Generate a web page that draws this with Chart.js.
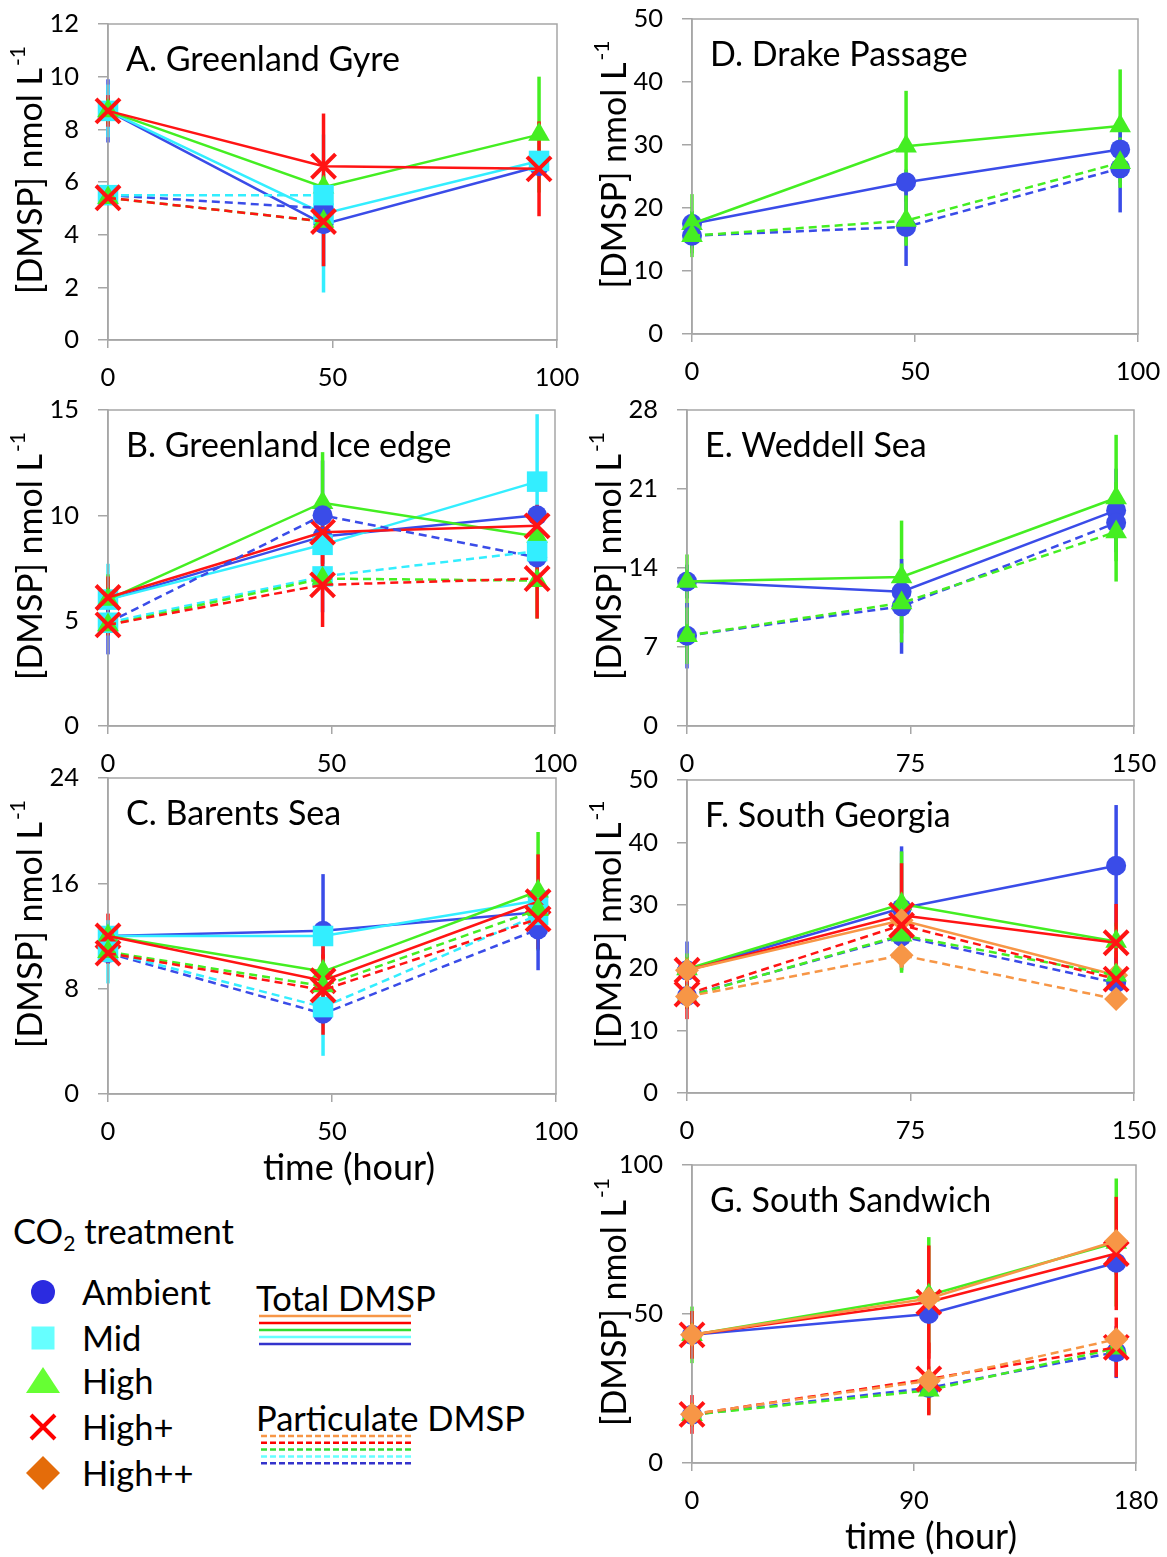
<!DOCTYPE html>
<html>
<head>
<meta charset="utf-8">
<script src="https://cdn.jsdelivr.net/npm/chart.js@4"></script>
<style>
  body { margin: 0; background: #fff; }
  #page { position: relative; width: 1167px; height: 1557px; overflow: hidden; font-family: Lato, sans-serif; }
  #page canvas { position: absolute; }
  .lg { position: absolute; font-size: 34.5px; color: #000; white-space: nowrap; line-height: 1; transform: translateY(-50%); }
  .lg sub { font-size: 21px; vertical-align: -7px; }
</style>
</head>
<body>
<div id="page"></div>
<script>
// treatments in legend order
const treatments = ['Ambient', 'Mid', 'High', 'High+', 'High++'];
const colors = ['#3a4ce8', '#33eeff', '#44ee22', '#ff1414', '#f79646'];

// sampling times (hour)
const hours96 = [0, 48, 96];
const hours144 = [0, 72, 144];
const hours172 = [0, 96, 172];

// which treatments are in each panel (index into treatments)
const setArctic = [0, 1, 2, 3];
const setDE = [0, 2];
const setFG = [0, 2, 3, 4];

// A. Greenland Gyre
const totalA = [[8.7, 4.4, 6.6], [8.7, 4.8, 6.8], [8.7, 5.8, 7.8], [8.7, 6.6, 6.5]];
const totalErrA = [[1.2, 1.6, 0.3], [1.0, 3.0, 0.3], [0.5, 0.5, 2.2], [0.6, 2.0, 1.8]];
const partA = [[5.5, 5.0], [5.5, 5.5], [5.4, 4.5], [5.4, 4.5]];
const partErrA = [[0.2, 0.3], [0.2, 0.3], [0.2, 0.3], [0.2, 1.7]];

// B. Greenland Ice edge
const totalB = [[6.0, 9.0, 10.0], [6.0, 8.6, 11.6], [6.0, 10.6, 9.0], [6.1, 9.2, 9.5]];
const totalErrB = [[1.0, 3.6, 0.5], [1.7, 1.0, 3.2], [1.2, 2.4, 1.0], [1.0, 1.5, 1.0]];
const partB = [[4.9, 10.0, 8.0], [4.9, 7.1, 8.3], [4.8, 7.0, 6.9], [4.8, 6.7, 7.0]];
const partErrB = [[1.5, 0.5, 0.5], [0.5, 0.5, 0.5], [0.4, 0.5, 1.8], [0.5, 2.0, 1.9]];

// C. Barents Sea
const totalC = [[12.0, 12.4, 13.8], [12.0, 12.0, 14.7], [12.0, 9.3, 15.4], [12.0, 8.6, 14.6]];
const totalErrC = [[1.0, 4.3, 1.0], [1.0, 1.0, 1.5], [1.0, 1.0, 4.5], [1.7, 2.0, 3.6]];
const partC = [[10.7, 6.1, 12.5], [10.8, 6.6, 13.6], [10.8, 8.2, 14.0], [10.7, 7.9, 13.3]];
const partErrC = [[0.8, 0.8, 3.1], [2.4, 3.7, 0.8], [0.8, 0.8, 0.8], [0.8, 3.4, 0.8]];

// D. Drake Passage
const totalD = [[17.5, 24.1, 29.3], [17.5, 29.8, 33.0]];
const totalErrD = [[2.0, 2.0, 2.0], [4.7, 8.8, 9.0]];
const partD = [[15.6, 17.0, 26.3], [15.6, 18.0, 27.2]];
const partErrD = [[2.0, 6.2, 7.0], [3.4, 4.0, 4.0]];

// E. Weddell Sea
const totalE = [[12.8, 11.9, 19.1], [12.8, 13.2, 20.2]];
const totalErrE = [[1.5, 2.0, 3.7], [2.4, 5.0, 5.6]];
const partE = [[8.0, 10.6, 18.0], [8.0, 10.9, 17.2]];
const partErrE = [[2.9, 4.2, 1.5], [2.5, 3.5, 4.4]];

// F. South Georgia
const totalF = [[19.6, 29.5, 36.3], [19.8, 30.2, 24.2], [19.6, 28.4, 24.0], [19.6, 27.6, 18.8]];
const totalErrF = [[4.6, 9.9, 9.7], [2.5, 8.4, 3.0], [2.0, 8.3, 6.2], [2.0, 2.0, 2.0]];
const partF = [[15.5, 25.0, 17.6], [15.4, 25.2, 18.8], [15.8, 26.8, 18.2], [15.4, 22.0, 15.0]];
const partErrF = [[2.0, 2.0, 4.0], [2.0, 6.0, 2.0], [4.0, 2.0, 4.5], [1.5, 2.0, 1.5]];

// G. South Sandwich
const totalG = [[43, 50.0, 67.2], [43, 56.3, 74.0], [43, 54.0, 70.3], [43, 55.2, 74.5]];
const totalErrG = [[3, 3, 4], [9.5, 19.5, 21.5], [8, 19, 19], [3, 3, 3]];
const partG = [[16.2, 25.2, 37.2], [16.2, 24.4, 38.5], [16.3, 28.2, 38.8], [16.4, 27.6, 41.5]];
const partErrG = [[3, 3, 8.7], [4, 8, 5], [6.5, 12.2, 10], [3, 3, 3]];

const markerStyles = ['circle', 'rect', 'triangle', 'crossRot', 'rectRot'];
const markerSizes = [10, 14.5, 12.5, 17, 12];
const axisGray = '#a6a6a6';
const fontFamily = 'Lato, sans-serif';

// box = plot area [left, top, right, bottom] on the page; cl = canvas left, bottomEdge = canvas bottom
const panels = [
  { title: 'A. Greenland Gyre', hours: hours96, set: setArctic, total: totalA, totalErr: totalErrA, part: partA, partErr: partErrA,
    xMax: 100, xStep: 50, yMax: 12, yStep: 2, box: [108, 24, 557, 340], cl: 0, bottomEdge: 400 },
  { title: 'B. Greenland Ice edge', hours: hours96, set: setArctic, total: totalB, totalErr: totalErrB, part: partB, partErr: partErrB,
    xMax: 100, xStep: 50, yMax: 15, yStep: 5, box: [108, 410, 555, 726], cl: 0, bottomEdge: 785 },
  { title: 'C. Barents Sea', hours: hours96, set: setArctic, total: totalC, totalErr: totalErrC, part: partC, partErr: partErrC,
    xMax: 100, xStep: 50, yMax: 24, yStep: 8, box: [108, 778, 556, 1094], cl: 0, bottomEdge: 1195, xTitle: true },
  { title: 'D. Drake Passage', hours: hours96, set: setDE, total: totalD, totalErr: totalErrD, part: partD, partErr: partErrD,
    xMax: 100, xStep: 50, yMax: 50, yStep: 10, box: [692, 19, 1138, 334], cl: 585, bottomEdge: 400 },
  { title: 'E. Weddell Sea', hours: hours144, set: setDE, total: totalE, totalErr: totalErrE, part: partE, partErr: partErrE,
    xMax: 150, xStep: 75, yMax: 28, yStep: 7, box: [687, 410, 1134, 726], cl: 585, bottomEdge: 785 },
  { title: 'F. South Georgia', hours: hours144, set: setFG, total: totalF, totalErr: totalErrF, part: partF, partErr: partErrF,
    xMax: 150, xStep: 75, yMax: 50, yStep: 10, box: [687, 780, 1134, 1093], cl: 585, bottomEdge: 1150 },
  { title: 'G. South Sandwich', hours: hours172, set: setFG, total: totalG, totalErr: totalErrG, part: partG, partErr: partErrG,
    xMax: 180, xStep: 90, yMax: 100, yStep: 50, box: [692, 1165, 1136, 1463], cl: 585, bottomEdge: 1557, xTitle: true },
];

// vertical error bars, drawn under the lines and markers
const errorBars = {
  id: 'errorBars',
  beforeDatasetsDraw(chart) {
    const { ctx, scales: { x, y } } = chart;
    ctx.save();
    ctx.lineWidth = 3.5;
    const list = chart.data.datasets.slice().reverse();
    list.forEach(ds => {
      ctx.strokeStyle = ds.borderColor;
      ds.data.forEach((pt, i) => {
        const e = ds.errors[i];
        const px = x.getPixelForValue(pt.x);
        ctx.beginPath();
        ctx.moveTo(px, y.getPixelForValue(pt.y - e));
        ctx.lineTo(px, y.getPixelForValue(pt.y + e));
        ctx.stroke();
      });
    });
    ctx.restore();
  }
};

// plot area border and the panel texts
const frameAndText = {
  id: 'frameAndText',
  beforeDatasetsDraw(chart) {
    const { ctx, chartArea: a } = chart;
    ctx.save();
    ctx.strokeStyle = axisGray;
    ctx.lineWidth = 1.5;
    ctx.strokeRect(a.left, a.top, a.right - a.left, a.bottom - a.top);
    ctx.restore();
  },
  afterDraw(chart, args, opts) {
    const { ctx, chartArea: a } = chart;
    ctx.save();
    ctx.fillStyle = '#000';
    ctx.textBaseline = 'middle';
    ctx.textAlign = 'left';
    ctx.font = '34px ' + fontFamily;
    ctx.fillText(opts.title, a.left + 18, a.top + 36);

    // y axis title with superscript
    const main = '[DMSP] nmol L';
    const sup = '-1';
    ctx.translate(a.left - 77, (a.top + a.bottom) / 2 - 12);
    ctx.rotate(-Math.PI / 2);
    ctx.font = '34px ' + fontFamily;
    const wm = ctx.measureText(main).width;
    ctx.font = '21px ' + fontFamily;
    const ws = ctx.measureText(sup).width;
    const start = -(wm + ws + 2) / 2;
    ctx.font = '34px ' + fontFamily;
    ctx.fillText(main, start, 0);
    ctx.font = '21px ' + fontFamily;
    ctx.fillText(sup, start + wm + 2, -13);
    ctx.restore();

    if (opts.xTitle) {
      ctx.save();
      ctx.fillStyle = '#000';
      ctx.textAlign = 'center';
      ctx.textBaseline = 'middle';
      ctx.font = '36px ' + fontFamily;
      ctx.fillText('time (hour)', (a.left + a.right) / 2 + 17, a.bottom + 74);
      ctx.restore();
    }
  }
};

function makeDataset(t, hours, vals, errs, dashed) {
  return {
    data: vals.map((v, i) => ({ x: hours[i], y: v })),
    errors: errs,
    borderColor: colors[t],
    backgroundColor: colors[t],
    borderWidth: 2.5,
    borderDash: dashed ? [8, 5] : [],
    pointStyle: markerStyles[t],
    pointRadius: markerSizes[t],
    pointBorderWidth: t === 3 ? 4 : 0,
    pointBackgroundColor: colors[t],
    pointBorderColor: colors[t],
    tension: 0,
    clip: false
  };
}

const page = document.getElementById('page');
const padTop = 42;
const padRight = 48;

panels.forEach(p => {
  const [x0, y0, x1, y1] = p.box;
  const cl = p.cl;
  const ct = y0 - padTop;
  const cw = x1 + padRight - cl;
  const chh = p.bottomEdge - ct;
  const c = document.createElement('canvas');
  c.width = cw; c.height = chh;
  c.style.left = cl + 'px'; c.style.top = ct + 'px';
  c.style.width = cw + 'px'; c.style.height = chh + 'px';
  page.appendChild(c);

  const datasets = [];
  p.set.forEach((t, i) => datasets.push(makeDataset(t, p.hours, p.total[i], p.totalErr[i], false)));
  p.set.forEach((t, i) => datasets.push(makeDataset(t, p.hours, p.part[i], p.partErr[i], true)));
  // Chart.js paints the first dataset last, so reverse to keep High+/High++ on top
  datasets.reverse();

  const tickFont = { family: fontFamily, size: 25.5 };
  new Chart(c, {
    type: 'line',
    data: { datasets },
    options: {
      responsive: false,
      animation: false,
      devicePixelRatio: 1,
      layout: { padding: { left: 0, top: padTop, right: padRight, bottom: 0 } },
      plugins: {
        legend: { display: false },
        tooltip: { enabled: false },
        frameAndText: { title: p.title, xTitle: !!p.xTitle }
      },
      scales: {
        x: {
          type: 'linear', min: 0, max: p.xMax,
          afterFit: s => { s.height = p.bottomEdge - y1; },
          ticks: { stepSize: p.xStep, font: tickFont, color: '#000', padding: 14, maxRotation: 0 },
          grid: { drawOnChartArea: false, tickLength: 8, color: axisGray, lineWidth: 1.5 },
          border: { color: axisGray, width: 1.5 }
        },
        y: {
          type: 'linear', min: 0, max: p.yMax,
          afterFit: s => { s.width = x0 - cl; },
          ticks: { stepSize: p.yStep, font: tickFont, color: '#000', padding: 19 },
          grid: { drawOnChartArea: false, tickLength: 10, color: axisGray, lineWidth: 1.5 },
          border: { color: axisGray, width: 1.5 }
        }
      }
    },
    plugins: [errorBars, frameAndText]
  });
});

// legend
function addText(html, left, top) {
  const d = document.createElement('div');
  d.className = 'lg';
  d.style.left = left + 'px';
  d.style.top = top + 'px';
  d.innerHTML = html;
  page.appendChild(d);
}
addText('CO<sub>2</sub> treatment', 13, 1233);
const legendY = [1292, 1338, 1381, 1427, 1473];
treatments.forEach((name, i) => addText(name, 82, legendY[i]));
addText('Total DMSP', 256, 1298);
addText('Particulate DMSP', 256, 1418);

const legendMarkColors = ['#2b2be0', '#66ffff', '#66ff33', '#ff0000', '#e46c0a'];
const legendLineColors = ['#f79646', '#ff0000', '#33dd33', '#66ffff', '#3333cc'];
const svgNS = 'http://www.w3.org/2000/svg';
const svg = document.createElementNS(svgNS, 'svg');
svg.setAttribute('width', '1167');
svg.setAttribute('height', '1557');
svg.style.position = 'absolute';
svg.style.left = '0'; svg.style.top = '0';
function el(tag, attrs) {
  const e = document.createElementNS(svgNS, tag);
  Object.keys(attrs).forEach(k => e.setAttribute(k, attrs[k]));
  svg.appendChild(e);
}
const mx = 43;
el('circle', { cx: mx, cy: legendY[0], r: 12, fill: legendMarkColors[0] });
el('rect', { x: mx - 11.5, y: legendY[1] - 11.5, width: 23, height: 23, fill: legendMarkColors[1] });
el('polygon', { points: `${mx - 17},${legendY[2] + 12} ${mx + 17},${legendY[2] + 12} ${mx},${legendY[2] - 14}`, fill: legendMarkColors[2] });
el('path', { d: `M${mx - 12},${legendY[3] - 12} L${mx + 12},${legendY[3] + 12} M${mx + 12},${legendY[3] - 12} L${mx - 12},${legendY[3] + 12}`, stroke: legendMarkColors[3], 'stroke-width': 4, fill: 'none' });
el('polygon', { points: `${mx - 17},${legendY[4]} ${mx},${legendY[4] - 17} ${mx + 17},${legendY[4]} ${mx},${legendY[4] + 17}`, fill: legendMarkColors[4] });
legendLineColors.forEach((col, i) => {
  el('line', { x1: 259, x2: 411, y1: 1316 + i * 7, y2: 1316 + i * 7, stroke: col, 'stroke-width': 2.5 });
  el('line', { x1: 261, x2: 412, y1: 1436 + i * 6.8, y2: 1436 + i * 6.8, stroke: col, 'stroke-width': 2.5, 'stroke-dasharray': '6 3' });
});
page.appendChild(svg);
</script>
</body>
</html>
